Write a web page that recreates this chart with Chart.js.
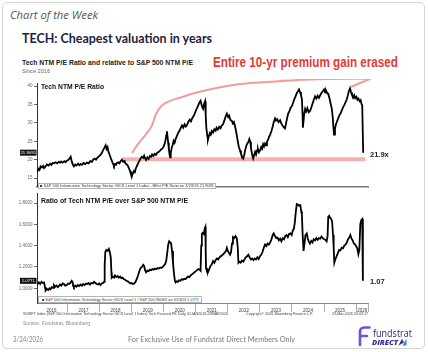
<!DOCTYPE html>
<html><head><meta charset="utf-8">
<script src="https://cdn.jsdelivr.net/npm/chart.js@4.4.1/dist/chart.umd.min.js"></script>
<style>
html,body{margin:0;padding:0;background:#fff;}
body{width:428px;height:352px;position:relative;overflow:hidden;}
#frame{position:absolute;left:2px;top:2px;width:423px;height:347px;border:1px solid #d4d4d4;border-radius:5px;box-sizing:border-box;}
canvas{position:absolute;left:0;}
#cTop{top:79px;} #cBot{top:189px;}
.t{position:absolute;white-space:nowrap;line-height:1.2;transform-origin:0 50%;}
.lg{position:absolute;background:#fff;border:0.5px solid #b5b5b5;box-sizing:border-box;}
</style></head><body>
<div id="frame"></div>
<canvas id="cTop" width="428" height="112"></canvas>
<canvas id="cBot" width="428" height="130"></canvas>
<div class="lg" style="left:38px;top:183px;width:178px;height:6px;"></div>
<div class="lg" style="left:38px;top:295.5px;width:164px;height:7px;"></div>
<svg style="position:absolute;left:356px;top:325px" width="16" height="22" viewBox="0 0 16 22">
  <defs><linearGradient id="g" x1="0" y1="0" x2="1" y2="1"><stop offset="0" stop-color="#8a3ee8"/><stop offset="1" stop-color="#3b6fe6"/></linearGradient></defs>
  <path d="M4 20 V7 Q4 2.5 8.5 2.5 H13.5 M4 11 H11" stroke="url(#g)" stroke-width="2.6" fill="none" stroke-linecap="round" stroke-linejoin="round"/>
</svg>
<svg style="position:absolute;left:398px;top:338px" width="9" height="8" viewBox="0 0 9 8">
  <path d="M0.5 7.5 L4 0.8 L6 4.5 Z" fill="#3b2d91"/><path d="M4.5 7.5 L8.5 0.8 L8.5 7.5 Z" fill="#3d7fe8"/>
</svg>
<script>
// ---------- DATA ----------
const topTicks = [40, 35, 30, 25, 20, 15];
const botTicks = [1.8, 1.6, 1.4, 1.2, 1.0];
const yearLabels = ['2016','2017','2018','2019','2020','2021','2022','2023','2024','2025','2026'];
const yearLabelPos = [2016.5,2017.5,2018.5,2019.5,2020.5,2021.5,2022.5,2023.5,2024.5,2025.5,2026.19];
const yearBounds = [2017,2018,2019,2020,2021,2022,2023,2024,2025,2026,2026.37];

// Tech NTM P/E (decimal year, value)
const topDates = [2016.00,2016.03,2016.06,2016.10,2016.13,2016.16,2016.20,2016.24,2016.27,2016.31,2016.36,2016.41,2016.46,2016.50,2016.54,2016.58,2016.63,2016.68,2016.73,2016.77,2016.80,2016.85,2016.90,2016.94,2016.98,
2017.02,2017.06,2017.10,2017.13,2017.17,2017.20,2017.24,2017.28,2017.33,2017.37,2017.41,2017.45,2017.50,2017.55,2017.61,2017.66,2017.71,2017.76,2017.80,2017.85,2017.89,2017.94,2017.98,
2018.03,2018.07,2018.11,2018.15,2018.19,2018.22,2018.25,2018.28,2018.32,2018.36,2018.40,2018.43,2018.45,2018.48,2018.51,2018.54,2018.58,2018.62,2018.66,2018.70,2018.74,2018.78,2018.81,2018.85,2018.89,2018.92,2018.95,2018.98,
2019.01,2019.04,2019.07,2019.10,2019.13,2019.17,2019.21,2019.25,2019.28,2019.32,2019.36,2019.39,2019.42,2019.45,2019.49,2019.53,2019.57,2019.61,2019.64,2019.68,2019.72,2019.76,2019.80,2019.84,2019.88,2019.92,2019.96,
2020.00,2020.03,2020.06,2020.08,2020.10,2020.12,2020.14,2020.16,2020.18,2020.20,2020.22,2020.25,2020.28,2020.31,2020.34,2020.38,2020.42,2020.46,2020.50,2020.53,2020.57,2020.61,2020.65,2020.69,2020.73,2020.77,2020.81,2020.85,2020.89,2020.93,2020.97,
2021.01,2021.05,2021.09,2021.12,2021.15,2021.18,2021.20,2021.23,2021.26,2021.29,2021.31,2021.33,2021.36,2021.38,2021.41,2021.44,2021.47,2021.50,2021.54,2021.58,2021.62,2021.65,2021.69,2021.73,2021.77,2021.81,2021.85,2021.89,2021.93,2021.97,
2022.01,2022.04,2022.08,2022.12,2022.16,2022.19,2022.22,2022.25,2022.28,2022.31,2022.34,2022.38,2022.41,2022.44,2022.48,2022.51,2022.54,2022.57,2022.60,2022.64,2022.67,2022.70,2022.72,2022.75,2022.77,2022.79,2022.82,2022.85,2022.88,2022.91,2022.94,2022.97,
2023.01,2023.04,2023.07,2023.10,2023.13,2023.16,2023.19,2023.22,2023.26,2023.29,2023.32,2023.36,2023.40,2023.43,2023.47,2023.50,2023.54,2023.58,2023.63,2023.67,2023.71,2023.75,2023.78,2023.81,2023.85,2023.88,2023.92,2023.96,
2024.00,2024.04,2024.08,2024.11,2024.15,2024.19,2024.22,2024.25,2024.28,2024.31,2024.33,2024.34,2024.36,2024.38,2024.41,2024.44,2024.48,2024.52,2024.56,2024.60,2024.64,2024.68,2024.72,2024.76,2024.80,2024.84,2024.88,2024.92,2024.96,
2025.00,2025.03,2025.06,2025.10,2025.13,2025.17,2025.20,2025.24,2025.27,2025.29,2025.31,2025.34,2025.37,2025.40,2025.43,2025.47,2025.51,2025.55,2025.59,2025.63,2025.67,2025.71,2025.74,2025.77,2025.81,2025.84,2025.87,2025.91,2025.94,2025.97,
2026.01,2026.04,2026.07,2026.11,2026.14,2026.17,2026.19,2026.22];
const topPE = [17.0,16.4,16.9,17.5,17.2,18.2,17.9,18.3,17.7,18.1,18.7,18.4,18.9,18.6,19.1,19.0,19.3,19.0,19.4,19.2,19.5,19.2,19.6,19.3,19.7,
19.9,20.3,20.8,19.6,18.6,18.2,18.7,18.4,18.9,18.5,18.8,18.6,19.1,18.8,19.2,19.0,19.6,19.4,20.0,20.3,20.0,20.6,20.9,
21.3,21.8,22.6,23.2,23.9,22.9,23.4,22.1,21.2,20.2,19.3,18.7,18.3,18.8,18.6,19.1,19.3,19.0,19.6,20.0,19.4,19.6,19.0,18.7,18.2,17.6,16.9,16.0,
15.5,16.3,16.9,16.6,17.6,18.4,19.2,19.8,20.3,20.8,20.5,21.1,20.4,19.9,20.6,20.2,21.0,20.8,21.4,21.0,21.6,21.3,21.9,22.1,22.4,22.8,23.0,
23.6,24.3,25.4,26.6,27.7,26.2,24.6,23.0,21.6,20.6,21.8,23.2,24.0,25.1,24.6,25.8,26.6,27.4,28.0,28.6,29.3,28.7,29.6,29.0,29.5,30.3,30.9,30.4,31.3,31.8,32.6,
33.5,34.2,35.0,35.6,36.0,35.0,34.3,33.8,35.2,35.9,32.0,28.6,26.5,25.4,26.4,27.2,26.8,27.8,27.4,28.3,27.9,28.7,28.2,28.9,28.5,29.3,29.6,30.6,31.7,32.5,
31.6,32.0,30.8,30.6,29.8,30.2,29.3,28.0,26.6,25.0,23.6,22.5,21.6,20.9,20.3,21.2,22.6,23.6,24.3,24.8,25.6,24.9,23.2,21.8,20.9,20.3,21.2,22.1,21.4,22.5,22.9,22.0,
22.6,23.4,23.0,24.2,23.6,24.4,23.9,24.8,25.6,26.3,26.8,27.8,29.0,30.2,31.2,30.6,31.0,30.2,30.7,29.8,29.2,28.8,28.5,29.6,31.4,32.5,33.2,34.1,
34.6,35.6,36.6,37.2,38.1,38.7,39.1,38.4,37.6,36.4,32.0,28.7,30.5,32.4,33.8,33.1,34.0,32.9,33.2,34.1,35.2,36.3,37.2,36.6,37.4,36.8,37.5,38.1,38.6,
39.1,38.3,38.8,38.0,37.9,36.6,35.4,33.9,31.6,29.0,26.8,28.4,29.6,30.3,31.0,31.9,32.5,33.3,34.2,34.8,35.6,36.4,37.4,38.5,39.4,38.3,37.6,36.9,37.5,36.7,
37.1,36.3,36.6,35.9,36.2,35.1,34.8,21.9];

// Ratio of Tech NTM P/E over S&P 500 NTM P/E
const botDates = [2016.00,2016.04,2016.08,2016.11,2016.15,2016.19,2016.23,2016.27,2016.30,2016.32,2016.36,2016.40,2016.44,2016.47,2016.51,2016.55,2016.58,2016.62,2016.66,2016.70,2016.73,2016.77,2016.81,2016.85,2016.89,2016.93,2016.98,
2017.02,2017.06,2017.10,2017.13,2017.16,2017.18,2017.20,2017.24,2017.28,2017.32,2017.36,2017.41,2017.45,2017.49,2017.53,2017.58,2017.62,2017.66,2017.70,2017.74,2017.79,2017.83,2017.87,2017.91,2017.95,2017.99,
2018.03,2018.07,2018.11,2018.14,2018.16,2018.18,2018.21,2018.25,2018.29,2018.32,2018.35,2018.37,2018.38,2018.41,2018.45,2018.48,2018.52,2018.56,2018.60,2018.64,2018.68,2018.72,2018.76,2018.80,2018.84,2018.88,2018.92,2018.96,
2019.00,2019.04,2019.08,2019.12,2019.16,2019.20,2019.24,2019.28,2019.32,2019.36,2019.39,2019.42,2019.45,2019.49,2019.53,2019.57,2019.61,2019.65,2019.69,2019.73,2019.77,2019.81,2019.85,2019.89,2019.93,2019.97,
2020.01,2020.05,2020.08,2020.11,2020.14,2020.17,2020.20,2020.23,2020.26,2020.29,2020.32,2020.35,2020.37,2020.40,2020.44,2020.48,2020.52,2020.56,2020.60,2020.64,2020.68,2020.72,2020.76,2020.80,2020.84,2020.88,2020.92,2020.96,
2021.00,2021.04,2021.08,2021.12,2021.15,2021.17,2021.19,2021.22,2021.25,2021.28,2021.30,2021.31,2021.32,2021.35,2021.38,2021.42,2021.46,2021.50,2021.54,2021.58,2021.62,2021.66,2021.70,2021.74,2021.78,2021.82,2021.86,2021.90,2021.94,2021.97,
2022.00,2022.04,2022.07,2022.10,2022.13,2022.16,2022.20,2022.24,2022.28,2022.31,2022.33,2022.36,2022.40,2022.44,2022.48,2022.52,2022.56,2022.60,2022.64,2022.68,2022.72,2022.76,2022.80,2022.84,2022.88,2022.92,2022.96,
2023.00,2023.04,2023.08,2023.12,2023.16,2023.20,2023.24,2023.28,2023.32,2023.36,2023.40,2023.43,2023.47,2023.51,2023.55,2023.59,2023.63,2023.67,2023.71,2023.75,2023.79,2023.83,2023.87,2023.91,2023.95,2023.99,
2024.03,2024.06,2024.09,2024.12,2024.15,2024.18,2024.22,2024.26,2024.29,2024.31,2024.33,2024.36,2024.39,2024.42,2024.46,2024.49,2024.52,2024.56,2024.60,2024.64,2024.68,2024.72,2024.76,2024.80,2024.84,2024.88,2024.92,2024.96,
2025.00,2025.04,2025.08,2025.11,2025.13,2025.16,2025.19,2025.22,2025.25,2025.28,2025.30,2025.32,2025.35,2025.39,2025.43,2025.47,2025.51,2025.55,2025.59,2025.63,2025.67,2025.71,2025.75,2025.79,2025.82,2025.85,2025.89,2025.93,2025.97,
2026.01,2026.04,2026.07,2026.10,2026.13,2026.16,2026.19,2026.21];
const botRatio = [1.01,1.03,1.045,1.055,1.04,1.06,1.05,1.055,1.01,0.98,0.995,0.985,1.00,0.99,1.01,1.005,1.03,1.015,1.025,1.01,1.02,1.035,1.025,1.045,1.04,1.025,1.03,
1.045,1.04,1.055,1.07,1.06,1.02,1.01,1.025,1.015,1.03,1.02,1.035,1.025,1.04,1.03,1.045,1.04,1.05,1.035,1.05,1.045,1.06,1.05,1.04,1.035,1.045,
1.03,1.045,1.05,1.06,1.22,1.34,1.36,1.35,1.37,1.34,1.29,1.15,1.10,1.11,1.10,1.12,1.105,1.115,1.10,1.11,1.095,1.10,1.085,1.08,1.07,1.065,1.055,1.045,
1.05,1.04,1.045,1.06,1.085,1.12,1.16,1.19,1.20,1.22,1.21,1.17,1.15,1.165,1.16,1.175,1.17,1.18,1.175,1.185,1.18,1.19,1.185,1.195,1.19,1.20,
1.215,1.23,1.26,1.33,1.41,1.44,1.43,1.42,1.35,1.24,1.14,1.07,1.055,1.065,1.06,1.075,1.07,1.085,1.08,1.09,1.085,1.10,1.11,1.105,1.12,1.13,1.14,1.15,
1.16,1.17,1.18,1.175,1.165,1.40,1.51,1.52,1.51,1.56,1.575,1.35,1.19,1.16,1.15,1.18,1.21,1.225,1.255,1.24,1.265,1.28,1.27,1.29,1.30,1.31,1.32,1.335,1.35,1.38,
1.35,1.33,1.315,1.34,1.42,1.48,1.47,1.49,1.47,1.38,1.24,1.25,1.24,1.26,1.25,1.27,1.29,1.30,1.315,1.29,1.27,1.28,1.265,1.28,1.27,1.29,1.275,
1.30,1.315,1.34,1.38,1.41,1.395,1.42,1.41,1.43,1.46,1.50,1.515,1.49,1.47,1.475,1.45,1.465,1.44,1.47,1.46,1.49,1.50,1.48,1.51,1.515,1.50,
1.545,1.56,1.62,1.72,1.79,1.785,1.775,1.78,1.72,1.69,1.52,1.35,1.42,1.50,1.515,1.47,1.44,1.42,1.445,1.43,1.46,1.45,1.47,1.455,1.47,1.465,1.485,1.47,
1.46,1.455,1.44,1.49,1.67,1.68,1.66,1.65,1.63,1.50,1.38,1.24,1.27,1.30,1.33,1.36,1.355,1.38,1.375,1.40,1.41,1.43,1.46,1.48,1.50,1.47,1.45,1.42,1.41,
1.39,1.37,1.32,1.36,1.60,1.64,1.65,1.07];

// annotation: 10-yr floor line and arrow path (decimal year, P/E)
const floorT = [2018.70, 2026.28];
const floorV = [20.1, 20.1];
const arrowT = [2019.01,2019.17,2019.48,2019.64,2019.75,2019.91,2020.10,2020.53,2021.15,2022.16,2023.22,2024.56,2026.44];
const arrowV = [21.8,23.9,27.3,29.4,32.2,34.4,35.6,36.9,38.5,40.3,41.1,41.8,42.0];
const lastLabels = ['21.9091', '1.0771'];
const rightLabels = ['21.9x', '1.07'];

// ---------- helpers ----------
const X_MIN = 2016.05, X_MAX = 2026.37;
const PINK = '#f39c9c';
const pts = (xs, ys) => xs.map((x, i) => ({x, y: ys[i]}));
const near = (a, b) => Math.abs(a - b) < 1e-6;

const tagPlugin = {
  id: 'tags',
  afterDatasetsDraw(chart, args, o) {
    const {ctx, chartArea, scales: {y}} = chart;
    const yy = y.getPixelForValue(o.value);
    ctx.save();
    ctx.fillStyle = '#111';
    ctx.fillRect(chartArea.left - 17, yy - 3, 16.5, 6);
    ctx.fillStyle = '#fff';
    ctx.font = '4.3px "Liberation Sans"';
    ctx.textAlign = 'center'; ctx.textBaseline = 'middle';
    ctx.fillText(o.box, chartArea.left - 8.75, yy + 0.3);
    ctx.fillStyle = '#222';
    ctx.font = 'bold 7.5px "Liberation Sans"';
    ctx.textAlign = 'left';
    ctx.fillText(o.right, chartArea.right + 2, yy + o.dy);
    ctx.restore();
  }
};
const arrowHead = {
  id: 'arrowHead',
  afterDatasetsDraw(chart) {
    const {ctx, scales: {x, y}} = chart;
    const n = arrowT.length;
    const tx = x.getPixelForValue(arrowT[n - 1]), ty = y.getPixelForValue(arrowV[n - 1]);
    ctx.save();
    ctx.strokeStyle = PINK; ctx.lineWidth = 2; ctx.lineCap = 'round'; ctx.lineJoin = 'round';
    ctx.beginPath();
    ctx.moveTo(tx - 19, ty + 8); ctx.lineTo(tx, ty); ctx.lineTo(tx - 9, ty - 5);
    ctx.stroke();
    ctx.restore();
  }
};

function yAxis(min, max, ticks, fmt) {
  return {
    min, max,
    afterBuildTicks(s) { s.ticks = ticks.map(v => ({value: v})); },
    afterFit(s) { s.width = 37; },
    ticks: {font: {size: 4.5, family: 'Liberation Sans'}, color: '#666', padding: 1.5, callback: fmt},
    grid: {drawOnChartArea: false, tickLength: 3, color: '#666', tickColor: '#666'},
    border: {color: '#333', width: 1}
  };
}
const common = {
  responsive: false, animation: false, events: [], devicePixelRatio: 1,
  plugins: {legend: {display: false}, tooltip: {enabled: false}}
};

// ---------- top chart ----------
new Chart(document.getElementById('cTop'), {
  type: 'line',
  data: {datasets: [
    {data: pts(topDates, topPE), borderColor: '#000', borderWidth: 1.8, pointRadius: 0, tension: 0},
    {data: pts(floorT, floorV), borderColor: 'rgba(243,150,150,0.75)', borderWidth: 4, pointRadius: 0},
    {data: pts(arrowT, arrowV), borderColor: PINK, borderWidth: 2, pointRadius: 0, cubicInterpolationMode: 'monotone', clip: false}
  ]},
  options: {...common,
    layout: {padding: {left: 0, right: 60, top: 2, bottom: 2}},
    plugins: {...common.plugins, tags: {value: topPE[topPE.length - 1], box: lastLabels[0], right: rightLabels[0], dy: 2.3}},
    scales: {
      x: {type: 'linear', min: X_MIN, max: X_MAX, ticks: {display: false}, grid: {display: false},
          border: {color: '#777', width: 1.5}, afterFit(s) { s.height = 0; }},
      y: yAxis(12.63, 40.78, topTicks, v => String(v))
    }
  },
  plugins: [tagPlugin, arrowHead]
});

// ---------- bottom chart ----------
const xTicks = [...yearBounds, ...yearLabelPos].sort((a, b) => a - b);
new Chart(document.getElementById('cBot'), {
  type: 'line',
  data: {datasets: [
    {data: pts(botDates, botRatio), borderColor: '#000', borderWidth: 1.8, pointRadius: 0, tension: 0}
  ]},
  options: {...common,
    layout: {padding: {left: 0, right: 60, top: 2, bottom: 0}},
    plugins: {...common.plugins, tags: {value: botRatio[botRatio.length - 1], box: lastLabels[1], right: rightLabels[1], dy: 0.8}},
    scales: {
      x: {type: 'linear', min: X_MIN, max: X_MAX,
          afterBuildTicks(s) { s.ticks = xTicks.map(v => ({value: v})); },
          afterFit(s) { s.height = 16; },
          ticks: {autoSkip: false, maxRotation: 0, minRotation: 0, padding: -4, color: '#444',
                  font: {size: 4.5, family: 'Liberation Sans'},
                  callback(v) { const i = yearLabelPos.findIndex(p => near(p, v)); return i >= 0 ? yearLabels[i] : ''; }},
          grid: {drawOnChartArea: false, tickLength: 9, lineWidth: 0.8,
                 tickColor: c => (c.tick && yearBounds.some(b => near(b, c.tick.value))) ? '#999' : 'rgba(0,0,0,0)'},
          border: {color: '#888', width: 1}},
      y: yAxis(0.862, 1.892, botTicks, v => Number(v).toFixed(4))
    }
  },
  plugins: [tagPlugin]
});

// ---------- texts ----------
function place(text, x, cy, w, size, font, color) {
  const el = document.createElement('div');
  el.className = 't';
  el.textContent = text;
  el.style.font = `${font.replace('SZ', size + 'px')}`;
  el.style.lineHeight = '1.2';
  el.style.color = color;
  el.style.left = x + 'px';
  el.style.top = (cy - size * 0.6) + 'px';
  document.body.appendChild(el);
  if (w) { const nat = el.getBoundingClientRect().width; el.style.transform = `scaleX(${w / nat})`; }
}
const LS = '"Liberation Sans", Arial, sans-serif';
place('Chart of the Week', 10, 14.5, 88, 10, `italic 400 SZ "Open Sans", sans-serif`, '#555');
place('TECH: Cheapest valuation in years', 22, 38.5, 190, 14, `700 SZ Lato, sans-serif`, '#1c2340');
place('Tech NTM P/E Ratio and relative to S&P 500 NTM P/E', 22, 63, 171, 7, `700 SZ ${LS}`, '#222');
place('Since 2016', 22, 71, 28, 5.5, `400 SZ ${LS}`, '#666');
place('Entire 10-yr premium gain erased', 213, 62.5, 185, 14, `700 SZ ${LS}`, '#e53935');
place('Tech NTM P/E Ratio', 41, 87, 63, 8, `700 SZ ${LS}`, '#111');
place('Ratio of Tech NTM P/E over S&P 500 NTM P/E', 41, 200, 147, 7.5, `700 SZ ${LS}`, '#111');
place('\u25A0 S&P 500 Information Technology Sector GICS Level 1 Index - BEst P/E Ratio on 3/23/26 21.9091', 40, 186, 174, 4.3, `400 SZ ${LS}`, '#333');
place('\u25A0 S&P 500 Information Technology Sector GICS Level 1 / S&P 500 INDEX on 3/23/26 1.0771', 41.5, 299.2, 157, 4.3, `400 SZ ${LS}`, '#333');
place('S5INFT Index (S&P 500 Information Technology Sector GICS Level 1 Index) Tech Forward PE Daily 01JAN2016-23MAR2026', 22.7, 314.6, 205, 3.8, `400 SZ ${LS}`, '#444');
place('Copyright\u00A9 2026 Bloomberg Finance L.P.', 246, 314.6, 67, 3.8, `400 SZ ${LS}`, '#444');
place('23-Mar-2026 20:03:17', 332, 314.6, 36, 3.8, `400 SZ ${LS}`, '#444');
place('Source: Fundstrat, Bloomberg', 22.7, 323.3, 67, 5.5, `400 SZ ${LS}`, '#888');
place('3/24/2026', 12.7, 339.3, 30, 7, `400 SZ Lato, sans-serif`, '#888');
place('For Exclusive Use of Fundstrat Direct Members Only', 128, 339.3, 167, 7.5, `400 SZ Lato, sans-serif`, '#777');
place('fundstrat', 373, 333, 39, 10.5, `500 SZ "Open Sans", sans-serif`, '#2c2a72');
place('DIRECT', 372, 342.5, 26, 7.5, `italic 800 SZ "Open Sans", sans-serif`, '#3b2d91');
</script>
</body></html>
